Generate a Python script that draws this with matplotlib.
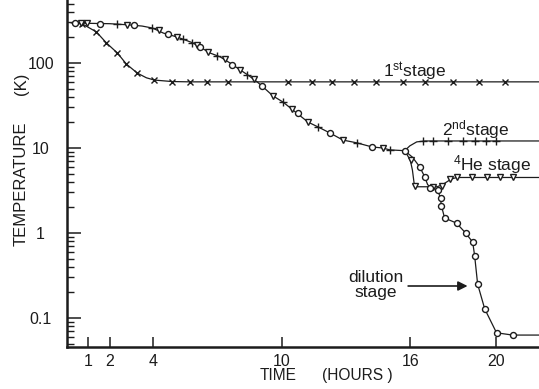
import matplotlib
matplotlib.use("Agg")
import matplotlib.pyplot as plt
from matplotlib.ticker import LogLocator, FixedLocator, NullFormatter

plt.rcParams['font.family'] = ['Liberation Sans', 'DejaVu Sans']

INK = '#1c1c1c'

# common cool-down curve (all stages together until ~16 h)
cool_t = [0.2, 1.0, 2.0, 2.95, 3.5, 3.98, 4.49, 5.14, 5.88, 6.67, 7.14, 7.6, 8.07,
          8.44, 8.86, 9.09, 9.6, 10.07, 10.53, 11.23, 11.7, 12.26, 12.86, 13.51,
          14.21, 14.72, 15.05, 15.74]
cool_T = [298, 293, 290, 280, 272, 258, 225, 202, 172, 131, 118, 100, 83,
          72, 60, 53.6, 41, 34.7, 28, 20.2, 17.7, 15, 12.4, 11.5,
          10.3, 10, 9.5, 9.3]

# 1st stage
st1_t = [0.2, 0.72, 1.37, 1.84, 2.35, 2.77, 3.28, 3.7, 4.07, 4.9, 5.74, 22.0]
st1_T = [298, 288, 232, 172, 131, 97, 76, 67, 63, 60.5, 60, 60]
st1_mt = [0.72, 1.37, 1.84, 2.35, 2.77, 3.28, 4.07, 4.9, 5.74, 6.53, 7.51,
          10.3, 11.4, 12.35, 13.4, 14.4, 15.65, 16.7, 18.0, 19.2, 20.4]
st1_mT = [288, 232, 172, 131, 97, 76, 63, 60.5, 60, 60, 60,
          60, 60, 60, 60, 60, 60, 60, 60, 60, 60]

# 2nd stage
st2_t = [15.74, 15.98, 16.3, 16.7, 22.0]
st2_T = [9.3, 10.6, 11.8, 12.1, 12.1]
st2_mt = [2.35, 3.98, 5.4, 5.84, 7.0, 8.4, 10.07, 11.7, 13.5, 15.05,
          16.6, 17.05, 17.75, 18.45, 19.0, 19.55, 20.0]
st2_mT = [290, 258, 190, 174, 122, 73, 34.7, 17.7, 11.5, 9.5,
          12.1, 12.1, 12.1, 12.1, 12.1, 12.1, 12.1]

# 4He stage
he_t = [15.74, 16.0, 16.1, 16.2, 17.25, 17.5, 17.9, 18.16, 22.0]
he_T = [9.3, 7.2, 5.5, 3.5, 3.5, 3.7, 4.3, 4.5, 4.5]
he_mt = [0.63, 0.95, 2.8, 4.3, 5.14, 6.07, 6.58, 7.37, 8.07, 8.7, 9.6, 10.5,
         11.23, 12.86, 14.72, 16.02, 16.22, 17.05, 17.5, 17.85,
         18.16, 18.86, 19.56, 20.16, 20.77]
he_mT = [295, 293, 282, 245, 202, 165, 135, 110, 83, 64, 41, 28.5,
         20.2, 12.4, 10, 7.2, 3.6, 3.5, 3.6, 4.3,
         4.5, 4.5, 4.5, 4.5, 4.5]

# dilution stage
dil_t = [15.74, 16.1, 16.44, 16.67, 16.81, 17.0, 17.28, 17.4, 17.45, 17.6, 18.15,
         18.58, 18.91, 19.0, 19.14, 19.47, 20.02, 20.77, 22.0]
dil_T = [9.3, 7.8, 6.0, 4.6, 3.7, 3.4, 3.2, 2.6, 2.1, 1.5, 1.31,
         1.0, 0.78, 0.54, 0.25, 0.128, 0.067, 0.063, 0.063]
dil_mt = [0.35, 1.56, 3.1, 4.7, 6.2, 7.7, 9.09, 10.77, 12.26, 14.2, 15.74,
          16.44, 16.67, 16.9, 17.28, 17.45, 17.42, 17.6, 18.16, 18.58, 18.91,
          19.0, 19.14, 19.47, 20.02, 20.77]
dil_mT = [296, 290, 278, 218, 155, 96, 54, 25.8, 15, 10.3, 9.3,
          6.0, 4.6, 3.4, 3.2, 2.6, 2.1, 1.5, 1.31, 1.0, 0.78,
          0.54, 0.25, 0.128, 0.067, 0.063]

xticks = [1, 2, 4, 10, 16, 20]
yticks = [0.1, 1, 10, 100]
ytick_labels = ['0.1', '1', '10', '100']

fig = plt.figure(figsize=(5.39, 3.89), dpi=100)
ax = fig.add_axes([67 / 539, 42 / 389, 1 - 67 / 539, 1 - 42 / 389])

lw = 0.9
ax.plot(cool_t, cool_T, color=INK, lw=lw)
ax.plot(st1_t, st1_T, color=INK, lw=lw)
ax.plot(st2_t, st2_T, color=INK, lw=lw)
ax.plot(he_t, he_T, color=INK, lw=lw)
ax.plot(dil_t, dil_T, color=INK, lw=lw)

ax.plot(st1_mt, st1_mT, 'x', color=INK, ms=5, mew=1.0)
ax.plot(st2_mt, st2_mT, '+', color=INK, ms=5.5, mew=1.0)
ax.plot(he_mt, he_mT, 'v', color=INK, ms=4.8, mew=1.0, mfc='white')
ax.plot(dil_mt, dil_mT, 'o', color=INK, ms=4.3, mew=1.0, mfc='white')

ax.set_yscale('log')
ax.set_xlim(0, 22)
ax.set_ylim(0.0456, 551)

ax.xaxis.set_major_locator(FixedLocator(xticks))
ax.set_xticklabels([str(v) for v in xticks])
ax.set_yticks(yticks)
ax.set_yticklabels(ytick_labels)
ax.yaxis.set_minor_locator(LogLocator(base=10, subs=range(2, 10), numticks=20))
ax.yaxis.set_minor_formatter(NullFormatter())

ax.tick_params(axis='y', which='major', direction='in', length=10, width=1.1,
               pad=19, labelsize=11.5, colors=INK)
ax.tick_params(axis='y', which='minor', direction='in', length=5, width=1.0, colors=INK)
ax.tick_params(axis='x', which='major', direction='in', length=7, width=1.1,
               pad=5, labelsize=11.5, colors=INK)
for lab in ax.get_yticklabels():
    lab.set_horizontalalignment('center')

for side in ('left', 'bottom'):
    ax.spines[side].set_linewidth(1.8)
    ax.spines[side].set_color(INK)
ax.spines['top'].set_visible(False)
ax.spines['right'].set_linewidth(0.6)
ax.spines['right'].set_color('#c8c8c8')

# stage labels
ax.text(16.2, 68, r'$\mathregular{1^{st}}$stage', ha='center', va='baseline',
        fontsize=12.5, color=INK)
ax.text(19.07, 14.2, r'$\mathregular{2^{nd}}$stage', ha='center', va='baseline',
        fontsize=12.5, color=INK)
ax.text(19.8, 5.5, r'$\mathregular{^4}$He stage', ha='center', va='baseline',
        fontsize=12.5, color=INK)
ax.text(14.39, 0.244, 'dilution\nstage', ha='center', va='center',
        fontsize=12.5, color=INK, linespacing=1.0)
ax.annotate('', xy=(18.67, 0.238), xytext=(15.9, 0.238),
            arrowprops=dict(arrowstyle='-|>', color=INK, lw=1.2,
                            mutation_scale=14, shrinkA=0, shrinkB=0))

# axis titles
fig.text(260 / 539, 1 - 375.5 / 389, 'TIME', ha='left', va='center',
         fontsize=11.2, color=INK)
fig.text(322 / 539, 1 - 375.5 / 389, '(HOURS )', ha='left', va='center',
         fontsize=11.2, color=INK)
fig.text(21 / 539, 1 - 183.5 / 389, 'TEMPERATURE', rotation=90, ha='center',
         va='center', fontsize=12, color=INK)
fig.text(21 / 539, 1 - 83.5 / 389, '(K)', rotation=90, ha='center',
         va='center', fontsize=12, color=INK)

fig.savefig('out.png', dpi=100)
